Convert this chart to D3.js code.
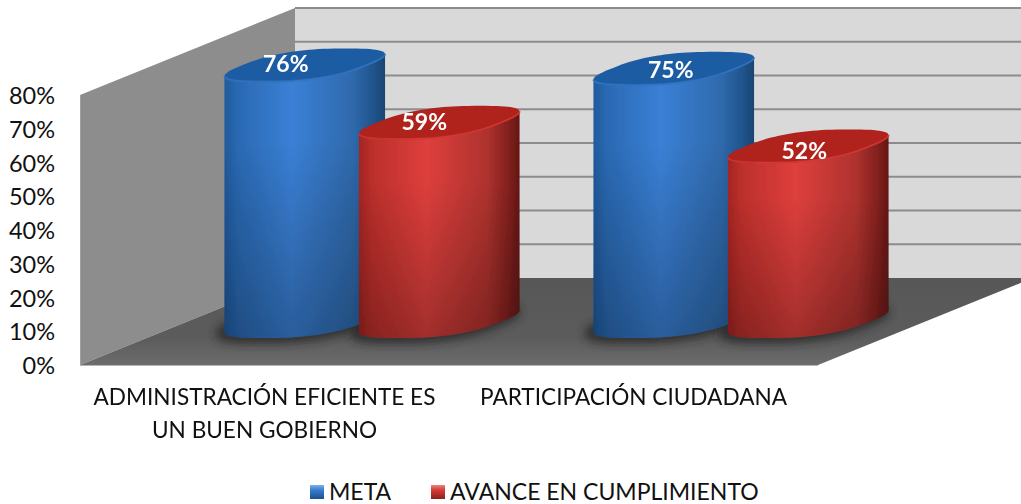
<!DOCTYPE html>
<html>
<head>
<meta charset="utf-8">
<script src="https://cdn.jsdelivr.net/npm/d3@7"></script>
<style>
  html, body { margin: 0; padding: 0; background: #fff; }
  svg { display: block; }
  text { font-family: Lato, "Open Sans", sans-serif; fill: #111; }
</style>
</head>
<body>
<div id="chart"></div>
<script>
// 3D cylinder column chart, projected by hand onto a front axis + depth vector.
const categories = ["ADMINISTRACIÓN EFICIENTE ES|UN BUEN GOBIERNO", "PARTICIPACIÓN CIUDADANA"];
const seriesNames = ["META", "AVANCE EN CUMPLIMIENTO"];
const meta = [76, 75];
const avance = [59, 52];
const yTicks = [0, 10, 20, 30, 40, 50, 60, 70, 80];

(function () {
  "use strict";
  const W = 1021, H = 504;
  const x0 = 80, x1 = 818, base = 365;
  const depth = { x: 215, y: -87 }; // front edge -> back edge of the floor
  const values = [meta, avance];
  // labels were dragged by hand in the original: [category][series] -> dx, dy
  const labelNudge = [[[-19, 1], [-15, 2]], [[-3, 4], [-4, 7]]];

  const svg = d3.select("#chart").append("svg").attr("width", W).attr("height", H).attr("viewBox", `0 0 ${W} ${H}`);
  const defs = svg.append("defs");

  const x = d3.scaleBand().domain(categories).range([x0, x1]);
  const xs = d3.scaleBand().domain(seriesNames).range([50, x.bandwidth() - 50]);
  const y = d3.scaleLinear().domain([0, 80]).range([base, base - 270]);
  const h = (v) => base - y(v);

  function hGrad(id, stops) {
    const g = defs.append("linearGradient").attr("id", id).attr("x1", 0).attr("x2", 1).attr("y1", 0).attr("y2", 0);
    stops.forEach((s) => g.append("stop").attr("offset", s[0]).attr("stop-color", s[1]));
  }
  hGrad("body0", [[0, "#1f5a9c"], [0.08, "#2a69b2"], [0.42, "#3a80d6"], [0.8, "#2f69ac"], [0.94, "#1f5288"], [1, "#1b4470"]]);
  hGrad("body1", [[0, "#a32522"], [0.08, "#bb2f2b"], [0.42, "#de3f3c"], [0.8, "#ae322e"], [0.94, "#7f1f1c"], [1, "#641614"]]);
  const topColor = ["#1f5ca2", "#b0201e"];
  const rimColor = ["#2f72bf", "#cf3531"];

  const vg = defs.append("linearGradient").attr("id", "fade").attr("x1", 0).attr("x2", 0).attr("y1", 0).attr("y2", 1);
  vg.append("stop").attr("offset", 0).attr("stop-color", "#000").attr("stop-opacity", 0);
  vg.append("stop").attr("offset", 0.3).attr("stop-color", "#000").attr("stop-opacity", 0);
  vg.append("stop").attr("offset", 1).attr("stop-color", "#000").attr("stop-opacity", 0.27);

  const floorG = defs.append("linearGradient").attr("id", "floor").attr("x1", 0).attr("x2", 0).attr("y1", 0).attr("y2", 1);
  floorG.append("stop").attr("offset", 0).attr("stop-color", "#575757");
  floorG.append("stop").attr("offset", 0.7).attr("stop-color", "#5c5c5c");
  floorG.append("stop").attr("offset", 1).attr("stop-color", "#6c6c6c");

  defs.append("filter").attr("id", "soft").append("feGaussianBlur").attr("stdDeviation", 0.7);
  defs.append("filter").attr("id", "shadow").attr("x", "-30%").attr("y", "-60%").attr("width", "160%").attr("height", "220%")
    .append("feGaussianBlur").attr("stdDeviation", 4);

  const poly = (pts) => d3.line()(pts) + "Z";

  // walls + floor
  svg.append("path").attr("fill", "#8d8d8d")
    .attr("d", poly([[x0, y(80)], [x0 + depth.x, y(80) + depth.y], [x0 + depth.x, base + depth.y], [x0, base]]));
  svg.append("rect").attr("x", x0 + depth.x).attr("y", y(80) + depth.y).attr("width", W - x0 - depth.x).attr("height", 270).attr("fill", "#d9d9d9");
  svg.append("g").selectAll("line").data(yTicks.slice(1)).join("line")
    .attr("x1", x0 + depth.x).attr("x2", W)
    .attr("y1", (d) => y(d) + depth.y).attr("y2", (d) => y(d) + depth.y)
    .attr("stroke", "#8c8c8c").attr("stroke-width", 1.8);
  svg.append("path").attr("fill", "url(#floor)")
    .attr("d", poly([[x0, base], [x1, base], [x1 + depth.x, base + depth.y], [x0 + depth.x, base + depth.y]]));
  svg.append("line").attr("x1", x0).attr("x2", x1).attr("y1", base + 0.5).attr("y2", base + 0.5).attr("stroke", "#b5b5b5").attr("stroke-width", 1);
  svg.append("line").attr("x1", x0 + 0.5).attr("x2", x0 + 0.5).attr("y1", y(80)).attr("y2", base).attr("stroke", "#a0a0a0").attr("stroke-width", 1);

  // y axis
  const axis = svg.append("g").attr("transform", `translate(${x0 - 18},1)`)
    .call(d3.axisLeft(y).tickValues(yTicks).tickSize(0).tickPadding(7).tickFormat((d) => d + "%"));
  axis.select(".domain").remove();
  axis.selectAll("text").style("font-size", "23.5px").attr("fill", "#111").style("font-family", "Lato, sans-serif");

  // cylinders: a rounded ring on the floor plane, sheared by the depth vector
  const rFront = 62, rDepth = 0.19, squish = 0.75;
  const bend = (c) => Math.sign(c) * Math.pow(Math.abs(c), squish);
  const ring = (cx, cy, t) => [
    cx + rFront * bend(Math.cos(t)) + depth.x * rDepth * bend(Math.sin(t)),
    cy + depth.y * rDepth * bend(Math.sin(t)),
  ];
  const turn = d3.range(0, 360).map((i) => i * Math.PI / 180);
  const tRight = turn[d3.maxIndex(turn, (t) => ring(0, 0, t)[0])];
  const arc = (cx, cy, from, to) => d3.range(0, 91).map((i) => ring(cx, cy, from + (to - from) * i / 90));

  const cols = [];
  categories.forEach((c, ci) => seriesNames.forEach((s, si) => {
    cols.push({ ci, si, v: values[si][ci], c, s });
  }));

  cols.forEach((d) => {
    const cx = x(d.c) + xs(d.s) + xs.bandwidth() / 2 + depth.x / 2;
    const cy = base + depth.y / 2;
    d.cx = cx; d.topY = cy - h(d.v);
    // contact shadow
    svg.append("path").attr("fill", "#222").attr("stroke", "#222").attr("stroke-width", 10)
      .attr("opacity", 0.7).attr("filter", "url(#shadow)")
      .attr("d", poly(arc(cx - 4, cy + 1, 0, Math.PI * 2)));
  });

  const colG = svg.append("g").attr("filter", "url(#soft)");
  cols.forEach((d) => {
    // front side runs right silhouette -> under the base -> left silhouette
    const lower = arc(d.cx, d.topY + h(d.v), tRight, tRight - Math.PI);
    const upper = arc(d.cx, d.topY, tRight - Math.PI, tRight);
    const body = poly(lower.concat(upper));
    const g = colG.append("g");
    g.append("path").attr("d", body).attr("fill", `url(#body${d.si})`);
    g.append("path").attr("d", body).attr("fill", "url(#fade)");
    g.append("path").attr("d", poly(arc(d.cx, d.topY, 0, Math.PI * 2))).attr("fill", topColor[d.si]);
    g.append("path").attr("d", d3.line()(upper)).attr("fill", "none").attr("stroke", rimColor[d.si]).attr("stroke-width", 2).attr("opacity", 0.8);
  });

  // value labels
  svg.append("g").selectAll("text").data(cols).join("text")
    .attr("x", (d) => d.cx + labelNudge[d.ci][d.si][0]).attr("y", (d) => d.topY + labelNudge[d.ci][d.si][1])
    .attr("text-anchor", "middle").attr("dominant-baseline", "middle")
    .style("fill", "#fff").style("font-size", "23px").style("font-weight", 700)
    .text((d) => d.v + "%");

  // category labels
  const labelG = svg.append("g").selectAll("text").data(categories).join("text")
    .attr("text-anchor", "middle").style("font-size", "22.6px");
  labelG.selectAll("tspan").data((d) => d.split("|").map((t) => ({ t, c: d }))).join("tspan")
    .attr("x", (d) => x(d.c) + x.bandwidth() / 2)
    .attr("y", (d, i) => 405 + i * 33)
    .text((d) => d.t);

  // legend
  defs.append("linearGradient").attr("id", "leg0").attr("x1", 0).attr("x2", 0).attr("y1", 0).attr("y2", 1)
    .selectAll("stop").data([[0, "#7fb0e8"], [0.35, "#3a7fd0"], [1, "#1d4f8c"]]).join("stop")
    .attr("offset", (d) => d[0]).attr("stop-color", (d) => d[1]);
  defs.append("linearGradient").attr("id", "leg1").attr("x1", 0).attr("x2", 0).attr("y1", 0).attr("y2", 1)
    .selectAll("stop").data([[0, "#e88480"], [0.35, "#d83c38"], [1, "#8a1f1c"]]).join("stop")
    .attr("offset", (d) => d[0]).attr("stop-color", (d) => d[1]);
  const legendX = d3.scaleOrdinal().domain(seriesNames).range([310, 431]);
  const leg = svg.append("g").selectAll("g").data(seriesNames).join("g")
    .attr("transform", (d) => `translate(${legendX(d)},485)`);
  leg.append("rect").attr("width", 14).attr("height", 14).attr("fill", (d, i) => `url(#leg${i})`);
  leg.append("text").attr("x", 19).attr("y", 15).style("font-size", "23px").text((d) => d);
})();
</script>
</body>
</html>
